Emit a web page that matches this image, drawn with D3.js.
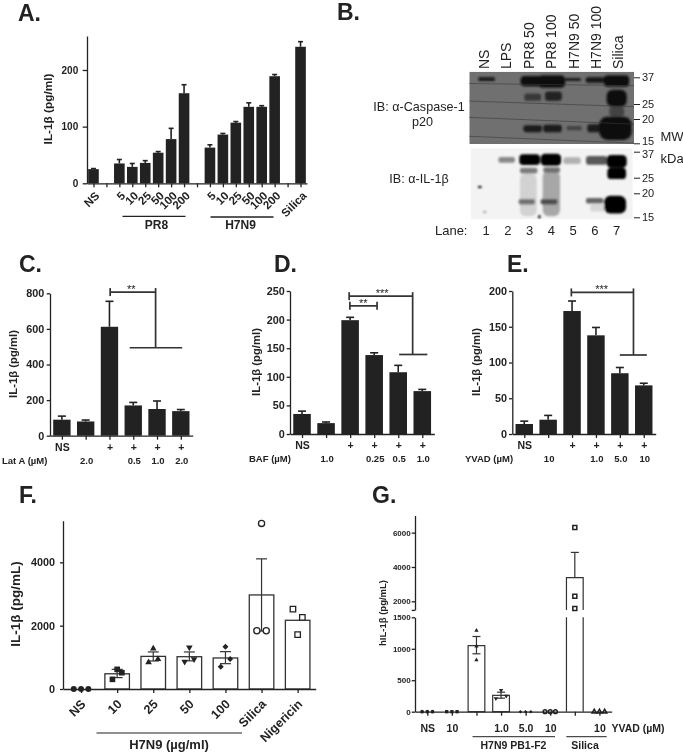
<!DOCTYPE html>
<html><head><meta charset="utf-8">
<script src="https://cdn.jsdelivr.net/npm/d3@7"></script>
<style>
html,body{margin:0;padding:0;background:#fff}
svg{display:block;filter:blur(.35px)}
text{font-family:"Liberation Sans",Arial,sans-serif;fill:#222}
</style></head><body><div id="c"></div>
<script>
// ---------- DATA ----------
const aLabels = ["NS","","5","10","25","50","100","200","","5","10","25","50","100","200","","Silica"];
const aValues = [25,null,35,29,36,54,78,159,null,63,86,107,135,135,189,null,241];
const aErrHi  = [26,null,42,35,40,56,97,174,null,68,88,109,142,137,192,null,250];

const laneNames = ["NS","LPS","PR8 50","PR8 100","H7N9 50","H7N9 100","Silica"];
const laneNumbers = [1,2,3,4,5,6,7];
const mwTicks = [37,25,20,15];
// [lane from, lane to, kDa top, kDa bottom, intensity]
const casp1Bands = [
 [0.65,1.41,37.0,35.1,.9],[2.59,3.63,37.7,32.5,1],[3.4,4.63,38.1,31.7,1],[4.6,5.35,36.6,35,.85],
 [5.58,6.57,37,34.2,.9],[6.42,7.57,38.1,32.2,1],
 [2.76,3.53,29.2,26.2,.55],[3.71,4.48,30,26.2,.8],[6.54,7.46,30.8,24,1],[6.66,7.34,24,20.7,.45],
 [2.72,3.57,18.6,17.1,.85],[3.63,4.48,18.7,17.1,.85],[4.7,5.4,18.4,17.5,.45],[5.65,6.31,18.8,17.1,.85],
 [6.2,7.69,20.7,15.6,1]
];
// [lane from, lane to, kDa at left, kDa at right]
const casp1Scratches = [[0.2,7.9,33.8,32.7],[0.2,7.9,26.1,24],[0.2,7.9,20.5,18.8],[0.2,7.9,16.3,15]];
const il1Bands = [
 [2.56,3.33,26.6,15.2,.14],[3.6,4.4,27.7,15.2,.32],[5.78,6.47,17.6,16.1,.12],
 [1.57,2.33,34.2,31.3,.45],[2.53,3.48,35.6,30.3,1],[3.51,4.45,35.9,29.9,1],[4.55,5.35,34,30.7,.28],
 [5.59,6.57,34.7,30.4,.65],[6.54,7.46,35.2,29,1],[6.57,7.43,29,24.5,1],
 [2.56,3.36,29,26.6,.5],[3.63,4.4,29.3,26.9,.55],
 [2.5,3.25,18.7,17.5,.55],[3.51,4.28,18.7,17.5,.7],[5.59,6.39,18.9,17.7,.6],[6.42,7.43,19.4,15.7,1],
 [0.63,0.8,22.2,21.6,1],[0.88,1.0,16.1,15.9,.8],[3.4,3.5,15.4,14.8,1]
];

const cLabels = ["NS","","+","+","+","+"];
const cDose   = ["","2.0","","0.5","1.0","2.0"];
const cValues = [90,80,612,170,150,138];
const cErrHi  = [110,88,755,187,195,147];

const dLabels = ["NS","","+","+","+","+"];
const dDose   = ["","1.0","","0.25","0.5","1.0"];
const dValues = [35,19,199,138,108,75];
const dErrHi  = [40,21,204,142,120,78];

const eLabels = ["NS","","+","+","+","+"];
const eDose   = ["","10","","1.0","5.0","10"];
const eValues = [14,20,172,138,85,68];
const eErrHi  = [18,26,186,149,93,71];

const fLabels = ["NS","10","25","50","100","Silica","Nigericin"];
const fValues = [0,480,1030,1020,980,2970,2170];
const fErrHi  = [null,620,1170,1170,1180,4110,null];
const fErrLo  = [null,360,885,890,800,1830,null];
const fPoints = [[0,0,0],[305,620,515],[840,1280,945],[860,1310,945],[705,1335,945],[1840,5230,1840],[2525,1715,2260]];
const fShapes = ["circle","square","triangle","inverted","diamond","openCircle","openSquare"];

const gLabels = ["NS","10","","1.0","5.0","10","","10"];
const gValues = [0,0,1050,260,0,0,3380,0];
const gErrHi  = [null,null,1195,310,null,null,4850,null];
const gErrLo  = [null,null,920,215,null,null,null,null];
const gPoints = [[0,0,0],[0,0,0],[1290,1040,820],[210,340,250],[0,0,0],[0,0,0],[6300,2300,1575],[0,0,0]];
const gSlots  = [[-1,0,1],[-1,0,1],[0,0,0],[-1,0,1],[-1,0,1],[-1,0,1],[0,0,0],[-1,0,1]];
const gShapes = ["circle","square","triangle","inverted","diamond","openCircle","openSquare","openTriangle"];

// ---------- SETUP ----------
const ink = "#222";
const svg = d3.select("#c").append("svg").attr("width",683).attr("height",756).attr("viewBox","0 0 683 756");
const defs = svg.append("defs");
defs.append("filter").attr("id","bandBlur").attr("x","-30%").attr("y","-60%").attr("width","160%").attr("height","220%")
  .append("feGaussianBlur").attr("stdDeviation",1.2);
const beta = "\u03B2", mu = "\u00B5";
const plain = d3.format("d");

function label(x,y,s,o={}){
  const t = svg.append("text").attr("x",x).attr("y",y).text(s)
    .attr("font-size",o.size||10).attr("font-weight",o.weight||"bold").attr("text-anchor",o.anchor||"middle");
  if(o.rotate!==undefined) t.attr("transform",`rotate(${o.rotate} ${x} ${y})`);
  return t;
}
function rule(x1,x2,y,w=1.2){
  svg.append("line").attr("x1",x1).attr("x2",x2).attr("y1",y).attr("y2",y).attr("stroke",ink).attr("stroke-width",w);
}

// Panel letters
[["A.",18,21],["B.",337,20],["C.",19,272],["D.",274,272],["E.",507,272],["F.",19,503],["G.",372,503]]
 .forEach(([s,x,y])=>label(x,y,s,{size:23,anchor:"start"}));

function makeX(n,x0,x1){ return d3.scalePoint().domain(d3.range(n)).range([x0,x1]).padding(.5); }

function yAxis(y,x0,ticks,fs,size=4,pad=2,fmt=plain){
  const g = svg.append("g").attr("transform",`translate(${x0},0)`)
    .call(d3.axisLeft(y).tickValues(ticks).tickFormat(fmt).tickSize(size).tickSizeOuter(0).tickPadding(pad));
  g.selectAll("path,line").attr("stroke",ink).attr("stroke-width",1.3);
  g.selectAll("text").attr("font-size",fs).attr("font-weight","bold").attr("font-family",null);
  return g;
}
function xAxis(x,y0,labels,fs,opt={}){
  const g = svg.append("g").attr("transform",`translate(0,${y0})`)
    .call(d3.axisBottom(x).tickFormat(i=>labels[i]).tickSize(opt.tick===undefined?4:opt.tick).tickSizeOuter(0).tickPadding(opt.pad===undefined?3:opt.pad));
  g.selectAll("path,line").attr("stroke",ink).attr("stroke-width",1.3);
  g.selectAll("text").attr("font-size",fs).attr("font-weight","bold").attr("font-family",null);
  if(opt.rotate) g.selectAll("text").attr("text-anchor","end").attr("dy",".35em")
    .attr("transform",`translate(${opt.dx||3},${opt.dy||5}) rotate(-45)`).attr("y",opt.ry||4).attr("x",0);
  return g;
}
function solidBars(x,y,vals,hi,frac,cap){
  const w = x.step()*frac, idx = d3.range(vals.length).filter(i=>vals[i]!==null);
  const g = svg.append("g");
  g.selectAll("line.err").data(idx).join("line").attr("x1",i=>x(i)).attr("x2",i=>x(i))
    .attr("y1",i=>y(vals[i])).attr("y2",i=>y(hi[i])).attr("stroke",ink).attr("stroke-width",1.6);
  g.selectAll("line.cap").data(idx).join("line").attr("x1",i=>x(i)-cap/2).attr("x2",i=>x(i)+cap/2)
    .attr("y1",i=>y(hi[i])).attr("y2",i=>y(hi[i])).attr("stroke",ink).attr("stroke-width",1.6);
  g.selectAll("rect").data(idx).join("rect").attr("x",i=>x(i)-w/2).attr("width",w)
    .attr("y",i=>y(vals[i])).attr("height",i=>y(0)-y(vals[i])).attr("fill",ink);
}
function bracket(x,y,b){
  const xf = f => x(0)+f*x.step();
  const P = [
   [[xf(b.from),y(b.y)],[xf(b.to),y(b.y)]],
   [[xf(b.from),y(b.y)-b.cap],[xf(b.from),y(b.y)+b.cap]]
  ];
  if(b.drop!==undefined){
    P.push([[xf(b.to),y(b.y)-b.cap],[xf(b.to),y(b.drop)]]);
    P.push([[xf(b.h0),y(b.drop)],[xf(b.h1),y(b.drop)]]);
  } else P.push([[xf(b.to),y(b.y)-b.cap],[xf(b.to),y(b.y)+b.cap]]);
  const ln = d3.line();
  P.forEach(p=>svg.append("path").attr("d",ln(p)).attr("fill","none").attr("stroke","#333").attr("stroke-width",1.7));
  label(xf(b.star),y(b.y)+1,b.text,{size:11,weight:"normal"});
}
function yTitle(x,y,s,size,wgt="bold"){
  return svg.append("text").attr("transform",`translate(${x},${y}) rotate(-90)`).attr("text-anchor","middle")
    .attr("font-size",size).attr("font-weight",wgt).text(s);
}
function symbolPath(kind,area){
  const base = kind.replace("open","").toLowerCase();
  const type = {circle:d3.symbolCircle,square:d3.symbolSquare,triangle:d3.symbolTriangle,inverted:d3.symbolTriangle,diamond:d3.symbolSquare}[base];
  return d3.symbol().type(type).size(area)();
}

// ---------- PANEL A ----------
{
  const x = makeX(aLabels.length,87,307), y = d3.scaleLinear().domain([0,260]).range([183.3,36]);
  solidBars(x,y,aValues,aErrHi,.82,5);
  yAxis(y,87,[0,100,200],10,4.3,4.5);
  xAxis(x,183.3,aLabels,11.5,{rotate:true,dx:0.5,dy:7.5});
  yTitle(52,109,`IL-1${beta} (pg/ml)`,11.8);
  rule(122.5,185.5,216.3,1.3); rule(210.5,273.5,217,1.3);
  label(156.5,229,"PR8",{size:12}); label(240.5,229,"H7N9",{size:12});
}

// ---------- PANEL B ----------
{
  const lane = d3.scaleLinear().domain([1,7]).range([486,616.7]);
  const nameLane = d3.scaleLinear().domain([1,7]).range([484,618.3]);
  const mwUp = d3.scaleLog().domain(mwTicks).range([77.3,104,119,143.3]);
  const mwLo = d3.scaleLog().domain(mwTicks).range([151.7,177.7,193.3,217.3]);
  const shade = d3.scaleLinear().domain([0,1]);
  const upColor = shade.copy().range(["#707070","#0c0c0c"]);
  const loColor = shade.copy().range(["#f3f3f3","#060606"]);
  const mk = (id,x,y,w,h)=>defs.append("clipPath").attr("id",id).append("rect").attr("x",x).attr("y",y).attr("width",w).attr("height",h);
  mk("clipUp",469.3,71.7,164.7,72.3); mk("clipLo",470.7,148.3,162,71);
  const up = svg.append("g").attr("clip-path","url(#clipUp)");
  up.append("rect").attr("x",469.3).attr("y",71.7).attr("width",164.7).attr("height",72.3).attr("fill","#707070");
  const lo = svg.append("g").attr("clip-path","url(#clipLo)");
  lo.append("rect").attr("x",470.7).attr("y",148.3).attr("width",162).attr("height",71).attr("fill","#f3f3f3");
  const drawBands = (g,data,mw,col)=>g.append("g").attr("filter","url(#bandBlur)").selectAll("rect").data(data).join("rect")
    .attr("x",d=>lane(d[0])).attr("width",d=>lane(d[1])-lane(d[0]))
    .attr("y",d=>mw(d[2])).attr("height",d=>mw(d[3])-mw(d[2]))
    .attr("rx",d=>Math.min(lane(d[1])-lane(d[0]),mw(d[3])-mw(d[2]))*.35)
    .attr("fill",d=>col(d[4]));
  drawBands(up,casp1Bands,mwUp,upColor);
  drawBands(lo,il1Bands,mwLo,loColor);
  const sl = d3.line();
  up.selectAll("path.scr").data(casp1Scratches).join("path").attr("fill","none").attr("stroke","#3a3a3a").attr("stroke-width",.6)
    .attr("d",d=>sl([[lane(d[0]),mwUp(d[2])],[lane(d[1]),mwUp(d[3])]]));
  [[mwUp,15,-2],[mwLo,37,2]].forEach(([m,nudged,off])=>{
    const g = svg.append("g").attr("transform","translate(634,0)")
      .call(d3.axisRight(m).tickValues(mwTicks).tickFormat(plain).tickSize(6).tickPadding(2));
    g.select(".domain").remove();
    g.selectAll("line").attr("stroke",ink).attr("stroke-width",1);
    g.selectAll("text").attr("font-size",11).attr("font-family",null)
      .attr("y",d=>d===nudged?off:0);
  });
  laneNames.forEach((s,i)=>{
    svg.append("text").attr("transform",`translate(${nameLane(i+1)},69) rotate(-90)`).attr("dy",".36em")
      .attr("font-size",14).text(s);
  });
  laneNumbers.forEach(n=>label(lane(n),234.5,n,{size:13,weight:"normal"}));
  label(467.5,234.5,"Lane:",{size:13,weight:"normal",anchor:"end"});
  label(660.5,141,"MW",{size:13,weight:"normal",anchor:"start"});
  label(660.5,163,"kDa",{size:13,weight:"normal",anchor:"start"});
  label(419,111,"IB: \u03B1-Caspase-1",{size:12.6,weight:"normal"});
  label(422.5,126,"p20",{size:12.6,weight:"normal"});
  label(419,183,`IB: \u03B1-IL-1${beta}`,{size:12.6,weight:"normal"});
}

// ---------- PANELS C, D, E ----------
function doseRow(x,y,dose,name,nameX,fs=9.5){
  dose.forEach((s,i)=>{ if(s) label(x(i)+1,y,s,{size:fs}); });
  label(nameX,y,name,{size:fs,anchor:"start"});
}
{
  const x = makeX(cValues.length,50,192.7), y = d3.scaleLinear().domain([0,800]).range([435.7,293.3]);
  solidBars(x,y,cValues,cErrHi,.73,8);
  yAxis(y,50,[0,200,400,600,800],10.8,3.3,2.4);
  xAxis(x,435.7,cLabels,10.5,{pad:4});
  doseRow(x,464.3,cDose,`Lat A (${mu}M)`,2);
  yTitle(17,364,`IL-1${beta} (pg/ml)`,11.3);
  bracket(x,y,{from:2.03,to:3.94,y:807,cap:4,drop:494,h0:2.85,h1:5.06,star:2.92,text:"**"});
}
{
  const x = makeX(dValues.length,290,434.3), y = d3.scaleLinear().domain([0,250]).range([434,291]);
  solidBars(x,y,dValues,dErrHi,.73,8);
  yAxis(y,290,[0,50,100,150,200,250],10.8,3.3,2);
  xAxis(x,434,dLabels,10.5,{pad:4});
  doseRow(x,462,dDose,`BAF (${mu}M)`,249);
  yTitle(260,362,`IL-1${beta} (pg/ml)`,11.3);
  bracket(x,y,{from:1.96,to:4.6,y:241,cap:4,drop:139,h0:4.04,h1:5.21,star:3.33,text:"***"});
  bracket(x,y,{from:1.99,to:3.12,y:224,cap:4,star:2.55,text:"**"});
}
{
  const x = makeX(eValues.length,512.3,655.7), y = d3.scaleLinear().domain([0,200]).range([434,291]);
  solidBars(x,y,eValues,eErrHi,.73,8);
  yAxis(y,512.3,[0,50,100,150,200],10.8,3.3,2);
  xAxis(x,434,eLabels,10.5,{pad:4});
  doseRow(x,462,eDose,`YVAD (${mu}M)`,465);
  yTitle(480,362,`IL-1${beta} (pg/ml)`,11.3);
  bracket(x,y,{from:1.97,to:4.57,y:198,cap:4,drop:110.5,h0:4.0,h1:5.13,star:3.24,text:"***"});
}

// ---------- PANEL F ----------
function errBars(g,x,y,vals,hi,lo,cap){
  vals.forEach((v,i)=>{
    if(hi[i]===null) return;
    const bot = lo[i]===null ? v : lo[i];
    g.append("line").attr("x1",x(i)).attr("x2",x(i)).attr("y1",y(bot)).attr("y2",y(hi[i])).attr("stroke","#333").attr("stroke-width",1.2);
    g.append("line").attr("x1",x(i)-cap/2).attr("x2",x(i)+cap/2).attr("y1",y(hi[i])).attr("y2",y(hi[i])).attr("stroke","#333").attr("stroke-width",1.2);
    if(lo[i]!==null) g.append("line").attr("x1",x(i)-cap/2).attr("x2",x(i)+cap/2).attr("y1",y(lo[i])).attr("y2",y(lo[i])).attr("stroke","#333").attr("stroke-width",1.2);
  });
}
function marks(g,cx,cy,kind,area,sw){
  const open = kind.startsWith("open");
  const turn = kind==="inverted" ? " rotate(180)" : kind==="diamond" ? " rotate(45)" : "";
  g.append("path").attr("d",symbolPath(kind,area))
    .attr("transform",`translate(${cx},${cy})`+turn)
    .attr("fill",open?"#fff":ink).attr("stroke",open?ink:"none").attr("stroke-width",open?sw:0);
}
const fArea = {circle:28,square:32,triangle:19,inverted:19,diamond:18,openCircle:30,openSquare:30};
const gArea = {circle:11,square:11,triangle:8,inverted:8,diamond:6,openCircle:11,openSquare:16,openTriangle:8};
{
  const x = makeX(fValues.length,63,315.7), y = d3.scaleLinear().domain([0,5315]).range([689,520.7]);
  const g = svg.append("g"), w = x.step()*.68;
  fValues.forEach((v,i)=>{ if(v>0) g.append("rect").attr("x",x(i)-w/2).attr("width",w).attr("y",y(v)).attr("height",y(0)-y(v))
    .attr("fill","#fff").attr("stroke","#333").attr("stroke-width",1.3); });
  errBars(g,x,y,fValues,fErrHi,fErrLo,11);
  fPoints.forEach((pts,i)=>{
    const tied = pts.every(p=>p===pts[0]), s = tied?7.3:4.7;
    pts.forEach((p,j)=>marks(g,x(i)+(j-1)*s,y(p),fShapes[i],fArea[fShapes[i]],1.3));
  });
  yAxis(y,63,[0,2000,4000],10.8,3,5);
  xAxis(x,689,fLabels,12.5,{rotate:true,dx:-1,dy:10});
  yTitle(20,604,`IL-1${beta} (pg/mL)`,13.5);
  rule(96.5,242,733,1.2);
  label(169,749,`H7N9 (${mu}g/ml)`,{size:13});
}

// ---------- PANEL G ----------
{
  const x = makeX(gValues.length,415,611.7);
  const yLo = d3.scaleLinear().domain([0,1500]).range([711.7,617.3]);
  const yUp = d3.scaleLinear().domain([1500,7000]).range([609.9,515.5]);
  const y = v => v>=1500 ? yUp(v) : yLo(v);
  const g = svg.append("g"), w = x.step()*.68;
  gValues.forEach((v,i)=>{
    if(v<=0) return;
    const xl = x(i)-w/2, xr = x(i)+w/2;
    if(v<=1500){
      g.append("rect").attr("x",xl).attr("width",w).attr("y",yLo(v)).attr("height",yLo(0)-yLo(v))
       .attr("fill","#fff").attr("stroke","#333").attr("stroke-width",1.2);
    } else {
      g.append("path").attr("d",d3.line()([[xl,yLo(0)],[xl,yLo(1500)]])+d3.line()([[xr,yLo(0)],[xr,yLo(1500)]]))
       .attr("stroke","#333").attr("stroke-width",1.2).attr("fill","none");
      g.append("path").attr("d",d3.line()([[xl,yUp(1500)],[xl,yUp(v)],[xr,yUp(v)],[xr,yUp(1500)]]))
       .attr("stroke","#333").attr("stroke-width",1.2).attr("fill","none");
    }
  });
  errBars(g,x,y,gValues,gErrHi,gErrLo,8);
  gPoints.forEach((pts,i)=>{
    pts.forEach((p,j)=>marks(g,x(i)+gSlots[i][j]*5.2,y(p),gShapes[i],gArea[gShapes[i]],1.5));
  });
  yAxis(yUp,415,[1500,2000,4000,6000],8,3.3,1,d=>d===1500?"":plain(d));
  yAxis(yLo,415,[0,500,1000,1500],8,3.3,1);
  xAxis(x,711.7,gLabels,10.5,{pad:8.5});
  label(611.5,731.5,`YVAD (${mu}M)`,{size:10.5,anchor:"start"});
  yTitle(385.5,613,`hIL-1${beta} (pg/mL)`,9.5);
  rule(472.5,555,736.7,1); rule(566.3,606.7,736.7,1);
  label(513.5,749,"H7N9 PB1-F2",{size:10.5}); label(585,749,"Silica",{size:10.5});
}
</script></body></html>
